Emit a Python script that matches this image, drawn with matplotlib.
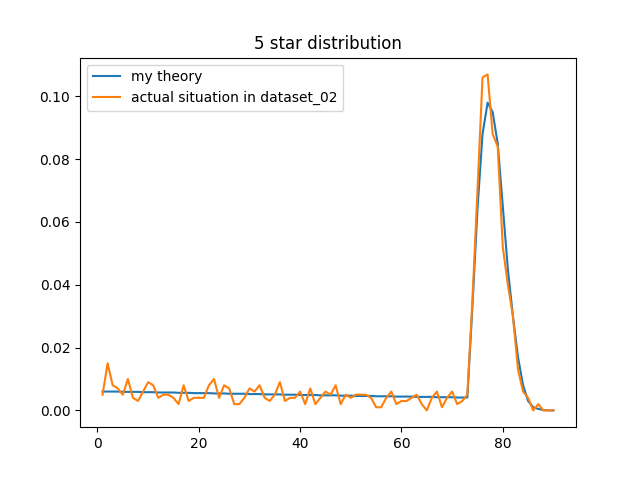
import matplotlib
matplotlib.use("Agg")
import matplotlib.pyplot as plt

pulls = list(range(1, 91))

theory = [
    0.0060, 0.0060, 0.0060, 0.0060, 0.0059, 0.0059, 0.0059, 0.0059, 0.0058, 0.0058,
    0.0058, 0.0057, 0.0057, 0.0057, 0.0057, 0.0056, 0.0056, 0.0056, 0.0055, 0.0055,
    0.0055, 0.0055, 0.0054, 0.0054, 0.0054, 0.0053, 0.0053, 0.0053, 0.0053, 0.0052,
    0.0052, 0.0052, 0.0051, 0.0051, 0.0051, 0.0051, 0.0050, 0.0050, 0.0050, 0.0049,
    0.0049, 0.0049, 0.0049, 0.0048, 0.0048, 0.0048, 0.0048, 0.0047, 0.0047, 0.0047,
    0.0046, 0.0046, 0.0046, 0.0046, 0.0045, 0.0045, 0.0045, 0.0045, 0.0044, 0.0044,
    0.0044, 0.0044, 0.0043, 0.0043, 0.0043, 0.0043, 0.0042, 0.0042, 0.0042, 0.0042,
    0.0041, 0.0041, 0.0041, 0.0330, 0.0640, 0.0880, 0.0980, 0.0950, 0.0850, 0.0650,
    0.0450, 0.0300, 0.0170, 0.0080, 0.0030, 0.0010, 0.0005, 0.0001, 0.0000, 0.0000,
]

actual = [
    0.005, 0.015, 0.008, 0.007, 0.005, 0.010, 0.004, 0.003, 0.006, 0.009,
    0.008, 0.004, 0.005, 0.005, 0.004, 0.002, 0.008, 0.003, 0.004, 0.004,
    0.004, 0.008, 0.010, 0.004, 0.008, 0.007, 0.002, 0.002, 0.004, 0.007,
    0.006, 0.008, 0.004, 0.003, 0.005, 0.009, 0.003, 0.004, 0.004, 0.006,
    0.002, 0.007, 0.002, 0.004, 0.006, 0.005, 0.008, 0.002, 0.005, 0.004,
    0.005, 0.005, 0.005, 0.004, 0.001, 0.001, 0.004, 0.006, 0.002, 0.003,
    0.003, 0.004, 0.005, 0.002, 0.000, 0.004, 0.006, 0.001, 0.004, 0.006,
    0.002, 0.003, 0.005, 0.035, 0.070, 0.106, 0.107, 0.088, 0.084, 0.052,
    0.040, 0.030, 0.013, 0.006, 0.004, 0.000, 0.002, 0.000, 0.000, 0.000,
]

fig, ax = plt.subplots(figsize=(6.4, 4.8), dpi=100)
ax.plot(pulls, theory, label="my theory")
ax.plot(pulls, actual, label="actual situation in dataset_02")
ax.set_title("5 star distribution")
ax.legend(loc="upper left")
fig.savefig("out.png")
